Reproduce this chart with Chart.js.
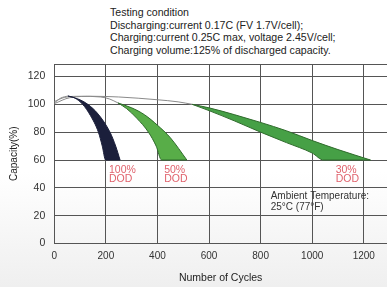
<!DOCTYPE html>
<html>
<head>
<meta charset="utf-8">
<script src="https://cdn.jsdelivr.net/npm/chart.js@4.4.1/dist/chart.umd.min.js"></script>
<style>
  html, body { margin: 0; padding: 0; }
  body { width: 387px; height: 287px; overflow: hidden; position: relative;
         background: linear-gradient(to top, #efefef 0%, #ffffff 40%);
         font-family: "Liberation Sans", Arial, sans-serif; }
  #cond { position: absolute; left: 110px; top: 6px; font-size: 10.6px; line-height: 12.5px; color: #222; }
  #wrap { position: absolute; left: 0; top: 0; width: 387px; height: 287px; }
</style>
</head>
<body>
<div id="cond">
  Testing condition<br>
  Discharging:current 0.17C (FV 1.7V/cell);<br>
  Charging:current 0.25C max, voltage 2.45V/cell;<br>
  Charging volume:125% of discharged capacity.
</div>
<div id="wrap"><canvas id="c" width="387" height="287"></canvas></div>
<script>
const cycleTicks = [0, 200, 400, 600, 800, 1000, 1200];
const capTicks = [0, 20, 40, 60, 80, 100, 120];

// [cycles, capacity %]  - lower / upper edge of each DOD band
const dod100Low  = [[53,106],[80,104.5],[110,100],[140,92],[171,80],[186,70],[199,60],[255,60]];
const dod100High = [[53,106],[90,104],[130,100],[170,93],[216,80],[238,70],[255,60]];
const dod50Low   = [[247,101],[280,97],[320,90],[365,80],[395,70],[416,60],[514,60]];
const dod50High  = [[247,101],[300,97.5],[350,92.5],[400,85],[450,76],[514,60]];
const dod30Low   = [[535,100],[600,95.5],[700,88],[800,80],[900,72.5],[1000,65],[1044,60],[1226,60]];
const dod30High  = [[535,100],[600,97.5],[700,92.5],[800,87],[900,81],[1000,74],[1100,67.5],[1226,60]];

// thin grey lead-in curves
const leadA = [[0,101],[25,104.5],[53,106]];
const leadB = [[0,102],[40,105],[100,105.8],[180,105.3],[215,103.8],[247,101]];
const leadC = [[0,100.5],[60,104.8],[150,105.8],[250,105.3],[400,103.3],[480,101.8],[535,100]];

const dodNames = ["100%", "50%", "30%"];

const pts = a => a.map(p => ({ x: p[0], y: p[1] }));

function edge(data, color, fill, bg) {
  return {
    data: pts(data), borderColor: color, borderWidth: 1, pointRadius: 0,
    cubicInterpolationMode: "monotone", fill: fill, backgroundColor: bg
  };
}

const datasets = [
  edge(dod100Low, "#1b1f3b", false),
  edge(dod100High, "#1b1f3b", "-1", "#1b1f3b"),
  edge(dod50Low, "#2f6b2c", false),
  edge(dod50High, "#2f6b2c", "-1", "#58ad48"),
  edge(dod30Low, "#2f6b2c", false),
  edge(dod30High, "#2f6b2c", "-1", "#46a046"),
  edge(leadA, "#8a8a8a", false),
  edge(leadB, "#8a8a8a", false),
  edge(leadC, "#8a8a8a", false),
];

// text inside the plot, placed in data units
const notes = {
  id: "notes",
  afterDraw(chart) {
    const { ctx, chartArea: a, scales: { x, y } } = chart;
    ctx.save();
    ctx.strokeStyle = "#555";
    ctx.lineWidth = 1;
    ctx.beginPath();
    ctx.moveTo(a.left, a.top + 0.5);
    ctx.lineTo(a.right, a.top + 0.5);
    ctx.stroke();

    ctx.textBaseline = "middle";
    ctx.textAlign = "left";
    ctx.font = "10.5px 'Liberation Sans', Arial, sans-serif";
    ctx.fillStyle = "#e0626c";
    const lx = [212, 426, 1091];
    dodNames.forEach((n, i) => {
      ctx.fillText(n, x.getPixelForValue(lx[i]), y.getPixelForValue(52.8));
      ctx.fillText("DOD", x.getPixelForValue(lx[i]), y.getPixelForValue(46));
    });
    ctx.fillStyle = "#333";
    ctx.font = "10px 'Liberation Sans', Arial, sans-serif";
    ctx.fillText("Ambient Temperature:", x.getPixelForValue(839), y.getPixelForValue(34.3));
    ctx.fillText("25°C (77°F)", x.getPixelForValue(839), y.getPixelForValue(25.7));
    ctx.restore();
  }
};

new Chart(document.getElementById("c"), {
  type: "line",
  data: { datasets },
  options: {
    responsive: false,
    animation: false,
    layout: { padding: { top: 64, right: 0, left: 0, bottom: 0 } },
    plugins: { legend: { display: false }, tooltip: { enabled: false } },
    scales: {
      x: {
        type: "linear", min: 0, max: 1290, z: 1,
        afterBuildTicks: s => { s.ticks = cycleTicks.map(v => ({ value: v })); },
        afterFit: s => { s.height = 43.5; },
        grid: { color: "#555", drawTicks: false },
        border: { color: "#555" },
        ticks: { color: "#333", padding: 7, callback: v => String(v),
                 font: { size: 10, family: "'Liberation Sans', Arial" } },
        title: { display: true, text: "Number of Cycles", color: "#222",
                 font: { size: 10.5, family: "'Liberation Sans', Arial" }, padding: { top: 0, bottom: 3 } }
      },
      y: {
        min: 0, max: 129, z: 1,
        afterBuildTicks: s => { s.ticks = capTicks.map(v => ({ value: v })); },
        afterFit: s => { s.width = 54.3; },
        grid: { color: "#555", drawTicks: false },
        border: { color: "#555" },
        ticks: { color: "#333", padding: 9, callback: v => String(v),
                 font: { size: 10.5, family: "'Liberation Sans', Arial" } },
        title: { display: true, text: "Capacity(%)", color: "#222",
                 font: { size: 10, family: "'Liberation Sans', Arial" }, padding: { top: 8, bottom: 0 } }
      }
    }
  },
  plugins: [notes]
});
</script>
</body>
</html>
